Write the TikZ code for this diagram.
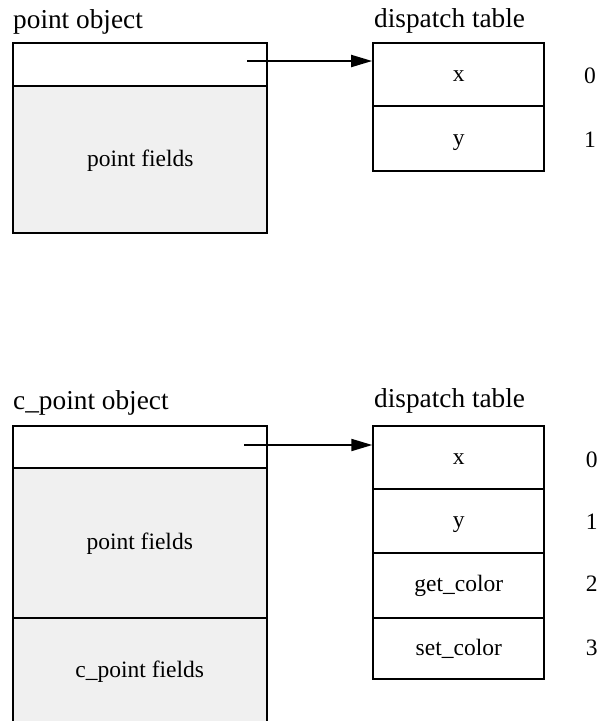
\documentclass[tikz,border=0pt]{standalone}
\usepackage{fontspec}
\setmainfont{Liberation Serif}
\usetikzlibrary{arrows.meta}
\begin{document}
\begin{tikzpicture}[x=1pt,y=-1pt,
  box/.style={draw=black, line width=2pt, rectangle, inner sep=0pt,
    text height=16pt, text depth=2.6pt, font=\fontsize{23.5}{26}\selectfont},
  objcell/.style={box, minimum width=254pt},
  fieldcell/.style={objcell, fill=black!6},
  tabcell/.style={box, minimum width=171pt},
  title/.style={anchor=base west, inner sep=0pt, font=\fontsize{27.3}{30}\selectfont},
  idx/.style={inner sep=0pt, font=\fontsize{23.5}{26}\selectfont},
  ptr/.style={line width=2pt, -{Triangle[length=21pt,width=12pt]}}
]
\useasboundingbox (0,0) rectangle (603,721);
\clip (0,0) rectangle (603,721);

% ---------- top: point object ----------
\node[title] (t1) at (13,28) {point object};
\node[objcell, minimum height=42.7pt] (o1h) at (140.3,64.65) {};
\node[fieldcell, minimum height=147pt] (o1f) at (140.3,159.5) {point fields};

\node[title] (t2) at (374,27.5) {dispatch table};
\node[tabcell, minimum height=62.7pt] (d1x) at (458.65,74.65) {x};
\node[tabcell, minimum height=64.7pt] (d1y) at (458.65,138.35) {y};
\node[idx] (n10) at (590,76) {0};
\node[idx] (n11) at (590,140) {1};

\coordinate (s1) at (247,61);
\draw[ptr] (s1) -- (s1 -| d1x.west);

% ---------- bottom: c_point object ----------
\node[title] (t3) at (13,409) {c\_point object};
\node[objcell, minimum height=42.6pt] (o2h) at (139.7,447) {};
\node[fieldcell, minimum height=149.4pt] (o2f) at (139.7,543) {point fields};
\node[fieldcell, minimum height=106.6pt] (o2c) at (139.7,671) {c\_point fields};

\node[title] (t4) at (374,407) {dispatch table};
\node[tabcell, minimum height=63.6pt] (d2x) at (458.8,457.5) {x};
\node[tabcell, minimum height=63.4pt] (d2y) at (458.8,521) {y};
\node[tabcell, minimum height=65pt] (d2g) at (458.8,585.2) {get\_color};
\node[tabcell, minimum height=61.6pt] (d2s) at (458.8,648.5) {set\_color};
\node[idx] (n20) at (591.7,460) {0};
\node[idx] (n21) at (591.7,521.7) {1};
\node[idx] (n22) at (591.7,584) {2};
\node[idx] (n23) at (591.7,648) {3};

\coordinate (s2) at (244,445);
\draw[ptr] (s2) -- (s2 -| d2x.west);
\end{tikzpicture}
\end{document}
